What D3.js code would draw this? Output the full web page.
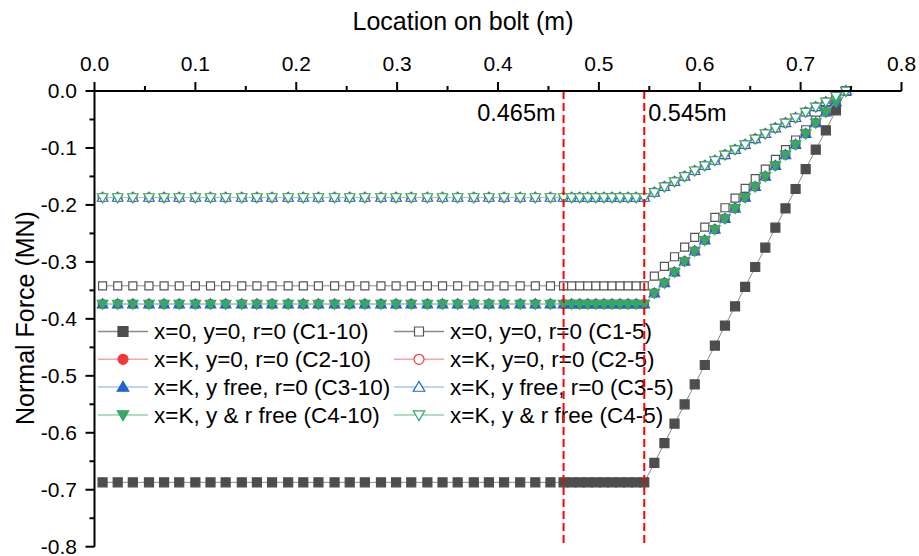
<!DOCTYPE html>
<html lang="en">
<head>
    <meta charset="UTF-8">
    <title>Normal Force along bolt</title>
    <script src="https://d3js.org/d3.v7.min.js"></script>
    <style>
        body { margin: 0; background: #fff; }
        svg text { font-family: Arial, "Liberation Sans", sans-serif; fill: #000; }
        .tick-label { font-size: 21px; }
        .axis-title { font-size: 25px; }
        .legend text { font-size: 22.5px; }
        .note { font-size: 23.5px; }
    </style>
</head>
<body>
    <svg id="chart" width="919" height="556"></svg>

    <script>
        // locations along the bolt (m)
        const boltLocation = [
            0.008, 0.023, 0.038, 0.054, 0.069, 0.084, 0.100, 0.115, 0.130, 0.146,
            0.161, 0.176, 0.192, 0.207, 0.222, 0.238, 0.253, 0.268, 0.284, 0.299,
            0.314, 0.330, 0.345, 0.360, 0.376, 0.391, 0.406, 0.422, 0.437, 0.452,
            0.465, 0.473, 0.481, 0.489, 0.497, 0.505, 0.513, 0.521, 0.529, 0.537,
            0.545, 0.555, 0.565, 0.575, 0.585, 0.595, 0.605, 0.615, 0.625, 0.635,
            0.645, 0.655, 0.665, 0.675, 0.685, 0.695, 0.705, 0.715, 0.725, 0.735,
            0.745
        ];

        // normal force (MN)
        const forceC1_10 = [
            -0.687, -0.687, -0.687, -0.687, -0.687, -0.687, -0.687, -0.687, -0.687, -0.687,
            -0.687, -0.687, -0.687, -0.687, -0.687, -0.687, -0.687, -0.687, -0.687, -0.687,
            -0.687, -0.687, -0.687, -0.687, -0.687, -0.687, -0.687, -0.687, -0.687, -0.687,
            -0.687, -0.687, -0.687, -0.687, -0.687, -0.687, -0.687, -0.687, -0.687, -0.687,
            -0.687, -0.653, -0.618, -0.584, -0.550, -0.515, -0.481, -0.447, -0.412, -0.378,
            -0.344, -0.309, -0.275, -0.240, -0.206, -0.172, -0.137, -0.103, -0.069, -0.034,
            0.000
        ];
        const forceC1_5 = [
            -0.342, -0.342, -0.342, -0.342, -0.342, -0.342, -0.342, -0.342, -0.342, -0.342,
            -0.342, -0.342, -0.342, -0.342, -0.342, -0.342, -0.342, -0.342, -0.342, -0.342,
            -0.342, -0.342, -0.342, -0.342, -0.342, -0.342, -0.342, -0.342, -0.342, -0.342,
            -0.342, -0.342, -0.342, -0.342, -0.342, -0.342, -0.342, -0.342, -0.342, -0.342,
            -0.342, -0.325, -0.308, -0.291, -0.274, -0.257, -0.239, -0.222, -0.205, -0.188,
            -0.171, -0.154, -0.137, -0.120, -0.103, -0.086, -0.068, -0.051, -0.034, -0.017,
            0.000
        ];
        // C2-10, C3-10 and C4-10 lie on top of each other
        const forceC234_10 = [
            -0.374, -0.374, -0.374, -0.374, -0.374, -0.374, -0.374, -0.374, -0.374, -0.374,
            -0.374, -0.374, -0.374, -0.374, -0.374, -0.374, -0.374, -0.374, -0.374, -0.374,
            -0.374, -0.374, -0.374, -0.374, -0.374, -0.374, -0.374, -0.374, -0.374, -0.374,
            -0.374, -0.374, -0.374, -0.374, -0.374, -0.374, -0.374, -0.374, -0.374, -0.374,
            -0.374, -0.355, -0.337, -0.318, -0.299, -0.281, -0.262, -0.243, -0.224, -0.206,
            -0.187, -0.168, -0.150, -0.131, -0.112, -0.094, -0.075, -0.056, -0.037, -0.019,
            0.000
        ];
        // C2-5, C3-5 and C4-5 lie on top of each other
        const forceC234_5 = [
            -0.187, -0.187, -0.187, -0.187, -0.187, -0.187, -0.187, -0.187, -0.187, -0.187,
            -0.187, -0.187, -0.187, -0.187, -0.187, -0.187, -0.187, -0.187, -0.187, -0.187,
            -0.187, -0.187, -0.187, -0.187, -0.187, -0.187, -0.187, -0.187, -0.187, -0.187,
            -0.187, -0.187, -0.187, -0.187, -0.187, -0.187, -0.187, -0.187, -0.187, -0.187,
            -0.187, -0.178, -0.168, -0.159, -0.150, -0.140, -0.131, -0.122, -0.112, -0.103,
            -0.094, -0.084, -0.075, -0.065, -0.056, -0.047, -0.037, -0.028, -0.019, -0.009,
            0.000
        ];

        const seriesNames = [
            "x=0, y=0, r=0 (C1-10)", "x=0, y=0, r=0 (C1-5)",
            "x=K, y=0, r=0 (C2-10)", "x=K, y=0, r=0 (C2-5)",
            "x=K, y free, r=0 (C3-10)", "x=K, y free, r=0 (C3-5)",
            "x=K, y & r free (C4-10)", "x=K, y & r free (C4-5)"
        ];
        const seriesValues = [
            forceC1_10, forceC1_5,
            forceC234_10, forceC234_5,
            forceC234_10, forceC234_5,
            forceC234_10, forceC234_5
        ];
        const dividers = [0.465, 0.545];
        const xTicks = [0, 0.1, 0.2, 0.3, 0.4, 0.5, 0.6, 0.7, 0.8];
        const yTicks = [0, -0.1, -0.2, -0.3, -0.4, -0.5, -0.6, -0.7, -0.8];

        // marker styles per series
        const styles = [
            { shape: "square",   fill: "#4d4d4d", stroke: "#4d4d4d", line: "#8a8a8a", size: 9 },
            { shape: "square",   fill: "#fff",    stroke: "#555",    line: "#8a8a8a", size: 8 },
            { shape: "circle",   fill: "#f03a3a", stroke: "#f03a3a", line: "#f7a4a4", size: 9 },
            { shape: "circle",   fill: "#fff",    stroke: "#f03a3a", line: "#f7a4a4", size: 9 },
            { shape: "triangle", fill: "#1f66d1", stroke: "#1f66d1", line: "#a9c6ee", size: 10 },
            { shape: "triangle", fill: "#fff",    stroke: "#1f66d1", line: "#a9c6ee", size: 10 },
            { shape: "down",     fill: "#35a864", stroke: "#35a864", line: "#93d3ab", size: 10 },
            { shape: "down",     fill: "#fff",    stroke: "#35a864", line: "#93d3ab", size: 10 }
        ];

        const svg = d3.select("#chart");
        const margin = { left: 94.5, right: 17.5, top: 91, bottom: 9.3 };
        const width = 919, height = 556;

        const x = d3.scaleLinear().domain([0, 0.8]).range([margin.left, width - margin.right]);
        const y = d3.scaleLinear().domain([0, -0.8]).range([margin.top, height - margin.bottom]);

        function markerPath(shape, s) {
            const h = s / 2;
            if (shape === "square") return `M${-h},${-h}H${h}V${h}H${-h}Z`;
            if (shape === "circle") return `M${h},0A${h},${h} 0 1,1 ${-h},0A${h},${h} 0 1,1 ${h},0Z`;
            if (shape === "triangle") return `M0,${-h * 1.05}L${h * 1.05},${h * 0.75}L${-h * 1.05},${h * 0.75}Z`;
            return `M0,${h * 1.05}L${h * 1.05},${-h * 0.75}L${-h * 1.05},${-h * 0.75}Z`;
        }

        // series
        const line = d3.line().x(d => x(d[0])).y(d => y(d[1]));
        const plot = svg.append("g");
        seriesValues.forEach((vals, i) => {
            const st = styles[i];
            const pts = boltLocation.map((loc, j) => [loc, vals[j]]);
            const g = plot.append("g");
            g.append("path")
                .attr("d", line(pts))
                .attr("fill", "none")
                .attr("stroke", i < 2 ? "#8a8a8a" : st.line)
                .attr("stroke-width", 1);
            g.selectAll("path.m")
                .data(pts)
                .enter().append("path")
                .attr("class", "m")
                .attr("transform", d => `translate(${x(d[0])},${y(d[1])})`)
                .attr("d", markerPath(st.shape, st.size))
                .attr("fill", st.fill)
                .attr("stroke", st.stroke)
                .attr("stroke-width", 1.2);
        });

        // legend (two columns)
        const legend = svg.append("g").attr("class", "legend");
        seriesNames.forEach((name, i) => {
            const st = styles[i];
            const col = i % 2, row = Math.floor(i / 2);
            const lx = col === 0 ? 98 : 394;
            const ly = 331.5 + row * 27.8;
            const g = legend.append("g").attr("transform", `translate(${lx},${ly})`);
            g.append("line")
                .attr("x1", 0).attr("x2", 50)
                .attr("stroke", st.line).attr("stroke-width", 1.5);
            g.append("path")
                .attr("transform", "translate(25,0)")
                .attr("d", markerPath(st.shape, st.size + 1))
                .attr("fill", st.fill)
                .attr("stroke", st.stroke)
                .attr("stroke-width", 1.2);
            g.append("text")
                .attr("x", 56).attr("dy", "0.35em")
                .text(name);
        });

        // red dashed dividers
        svg.selectAll("line.divider")
            .data(dividers)
            .enter().append("line")
            .attr("class", "divider")
            .attr("x1", d => x(d)).attr("x2", d => x(d))
            .attr("y1", y(0)).attr("y2", y(-0.8))
            .attr("stroke", "#ff0000")
            .attr("stroke-width", 2)
            .attr("stroke-dasharray", "8,4");

        svg.append("text").attr("class", "note")
            .attr("x", x(0.465) - 8).attr("y", 120.5)
            .attr("text-anchor", "end")
            .text("0.465m");
        svg.append("text").attr("class", "note")
            .attr("x", x(0.545) + 4).attr("y", 120.5)
            .text("0.545m");

        // axes
        const axes = svg.append("g");

        axes.append("line")
            .attr("x1", x(0)).attr("x2", x(0.8))
            .attr("y1", y(0)).attr("y2", y(0))
            .attr("stroke", "#000").attr("stroke-width", 2);
        axes.append("line")
            .attr("x1", x(0)).attr("x2", x(0))
            .attr("y1", y(0) - 1).attr("y2", y(-0.8))
            .attr("stroke", "#000").attr("stroke-width", 2);

        const xMinor = d3.range(0, 17).map(k => k * 0.05);
        axes.selectAll("line.xt")
            .data(xMinor)
            .enter().append("line")
            .attr("class", "xt")
            .attr("x1", d => x(d)).attr("x2", d => x(d))
            .attr("y1", y(0))
            .attr("y2", (d, k) => y(0) - (k % 2 === 0 ? 9 : 5))
            .attr("stroke", "#000").attr("stroke-width", 2);

        axes.selectAll("text.xl")
            .data(xTicks)
            .enter().append("text")
            .attr("class", "tick-label xl")
            .attr("x", d => x(d)).attr("y", 70.5)
            .attr("text-anchor", "middle")
            .text(d => d3.format(".1f")(d));

        const yMinor = d3.range(0, 17).map(k => -k * 0.05);
        axes.selectAll("line.yt")
            .data(yMinor)
            .enter().append("line")
            .attr("class", "yt")
            .attr("y1", d => y(d)).attr("y2", d => y(d))
            .attr("x1", x(0))
            .attr("x2", (d, k) => x(0) - (k % 2 === 0 ? 9 : 5))
            .attr("stroke", "#000").attr("stroke-width", 2);

        axes.selectAll("text.yl")
            .data(yTicks)
            .enter().append("text")
            .attr("class", "tick-label yl")
            .attr("x", 77).attr("y", d => y(d))
            .attr("dy", "0.35em")
            .attr("text-anchor", "end")
            .text(d => d === 0 ? "0.0" : d3.format(".1f")(d).replace("−", "-"));

        // axis titles
        svg.append("text").attr("class", "axis-title")
            .attr("x", 463).attr("y", 30)
            .attr("text-anchor", "middle")
            .text("Location on bolt (m)");
        svg.append("text").attr("class", "axis-title")
            .attr("transform", "translate(34,318) rotate(-90)")
            .attr("text-anchor", "middle")
            .text("Normal Force (MN)");
    </script>
</body>
</html>
